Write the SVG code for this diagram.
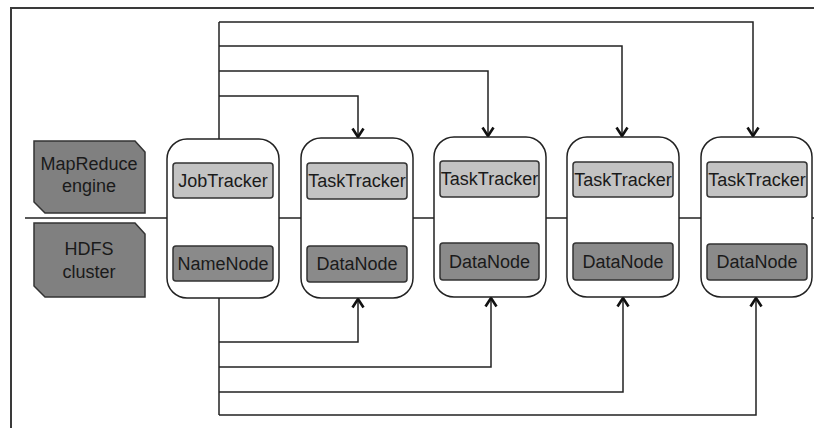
<svg xmlns="http://www.w3.org/2000/svg" width="814" height="428" viewBox="0 0 814 428">
<style>
.frame{fill:none;stroke:#3a3a3a;stroke-width:2}
.wire{fill:none;stroke:#222;stroke-width:1.5}
.box{fill:#fff;stroke:#222;stroke-width:1.5}
.light{fill:#c3c3c3;stroke:#333;stroke-width:1.5}
.dark{fill:#8a8a8a;stroke:#333;stroke-width:1.5}
.tag{fill:#808080;stroke:#333;stroke-width:1.5}
text{font-family:"Liberation Sans",Arial,sans-serif;fill:#1a1a1a;text-anchor:middle}
.t{font-size:18px}
.l{font-size:18px}
</style>
<defs>
<marker id="ah" markerWidth="12" markerHeight="14" viewBox="0 0 12 14" refX="10.5" refY="7" orient="auto" markerUnits="userSpaceOnUse">
<path d="M2,1.5 L10.5,7 L2,12.5" fill="none" stroke="#111" stroke-width="2.6"/>
</marker>
</defs>
<rect width="814" height="428" fill="#fff"/>
<path class="frame" d="M11,428 V8 H814"/>
<line x1="25" y1="218" x2="814" y2="218" stroke="#222" stroke-width="1.5"/>
<g id="connectors">
<path class="wire" d="M219,139 V22"/>
<path class="wire" d="M219,22 H753 V136" marker-end="url(#ah)"/>
<path class="wire" d="M219,46 H622 V136" marker-end="url(#ah)"/>
<path class="wire" d="M219,71 H488 V136" marker-end="url(#ah)"/>
<path class="wire" d="M219,96 H358 V137" marker-end="url(#ah)"/>
<path class="wire" d="M219,298 V415"/>
<path class="wire" d="M219,342 H358 V299" marker-end="url(#ah)"/>
<path class="wire" d="M219,367 H491 V298" marker-end="url(#ah)"/>
<path class="wire" d="M219,392 H623 V298" marker-end="url(#ah)"/>
<path class="wire" d="M219,415 H756 V298" marker-end="url(#ah)"/>
</g>
<g id="mapreduce-engine">
<polygon class="tag" points="34,141 135,141 145,152 145,213 45,213 34,202"/>
<text class="l" x="89" y="170">MapReduce</text>
<text class="l" x="89" y="192">engine</text>
</g>
<g id="hdfs-cluster">
<polygon class="tag" points="34,223 135,223 145,234 145,297 45,297 34,286"/>
<text class="l" x="89" y="255">HDFS</text>
<text class="l" x="89" y="278">cluster</text>
</g>
<g id="node-master">
<rect class="box" x="167" y="139" width="112" height="159" rx="20"/>
<rect class="light" x="173" y="163" width="100" height="35" rx="3"/>
<text class="t" x="223" y="187">JobTracker</text>
<rect class="dark" x="173" y="246" width="100" height="35" rx="3"/>
<text class="t" x="223" y="270">NameNode</text>
</g>
<g id="node-worker1">
<rect class="box" x="301" y="138" width="112" height="160" rx="20"/>
<rect class="light" x="307" y="163" width="100" height="36" rx="3"/>
<text class="t" x="357" y="187">TaskTracker</text>
<rect class="dark" x="307" y="246" width="100" height="36" rx="3"/>
<text class="t" x="357" y="270">DataNode</text>
</g>
<g id="node-worker2">
<rect class="box" x="434" y="137" width="112" height="160" rx="20"/>
<rect class="light" x="440" y="161" width="99" height="36" rx="3"/>
<text class="t" x="489.5" y="185">TaskTracker</text>
<rect class="dark" x="440" y="243" width="99" height="37" rx="3"/>
<text class="t" x="489.5" y="268">DataNode</text>
</g>
<g id="node-worker3">
<rect class="box" x="567" y="137" width="112" height="160" rx="20"/>
<rect class="light" x="573" y="162" width="100" height="35" rx="3"/>
<text class="t" x="623" y="186">TaskTracker</text>
<rect class="dark" x="573" y="243" width="100" height="37" rx="3"/>
<text class="t" x="623" y="268">DataNode</text>
</g>
<g id="node-worker4">
<rect class="box" x="701" y="137" width="111" height="160" rx="20"/>
<rect class="light" x="707" y="162" width="100" height="35" rx="3"/>
<text class="t" x="757" y="186">TaskTracker</text>
<rect class="dark" x="707" y="244" width="100" height="36" rx="3"/>
<text class="t" x="757" y="268">DataNode</text>
</g>
</svg>
